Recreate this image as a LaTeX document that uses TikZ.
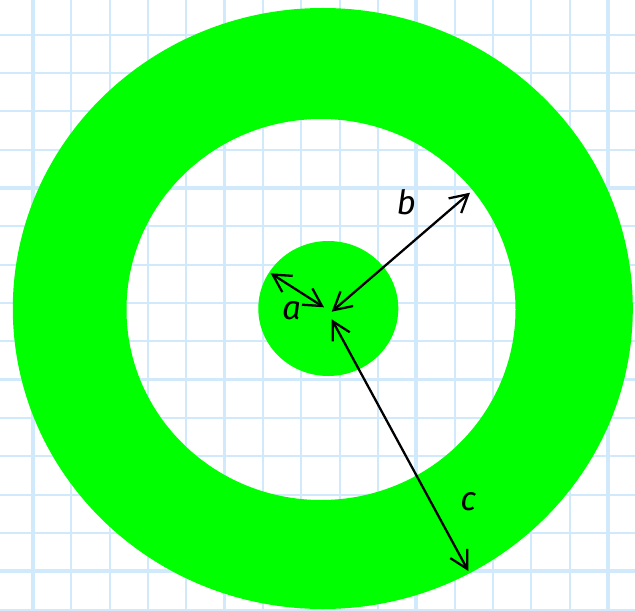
\documentclass[tikz,border=0pt]{standalone}
\usepackage{fontspec}
\setsansfont{Fira Sans}
\usetikzlibrary{arrows.meta}

\definecolor{gridblue}{RGB}{208,234,252}
\definecolor{ringgreen}{RGB}{0,255,0}

\begin{document}
\begin{tikzpicture}[x=0.02cm,y=-0.02cm,
  minor/.style={draw=gridblue,line width=1.1pt},
  major/.style={draw=gridblue,line width=2.1pt},
  dim/.style={<->,line width=1.3pt,>={Straight Barb[length=10pt,width=11pt]}},
  lbl/.style={font=\sffamily\itshape\fontsize{19}{22}\selectfont,inner sep=0pt}
]
  \useasboundingbox (0,0) rectangle (635,611);

  % squared paper
  \foreach \k in {0,...,15}
    \draw[minor] ({33+38.33*\k},0) -- ({33+38.33*\k},611);
  \foreach \m in {-5,...,11}
    \draw[minor] (0,{188+38.33*\m}) -- (635,{188+38.33*\m});
  \foreach \k in {0,5,10,15}
    \draw[major] ({33+38.33*\k},0) -- ({33+38.33*\k},611);
  \foreach \m in {0,5,10}
    \draw[major] (0,{188+38.33*\m}) -- (635,{188+38.33*\m});

  % ring and core
  \fill[ringgreen,even odd rule]
    (322.8,308.5) ellipse [x radius=310,y radius=300.5]
    (321,309.5) ellipse [x radius=194.5,y radius=190.5];
  \fill[ringgreen] (328.3,308.5) ellipse [x radius=70,y radius=67.5];

  \coordinate (a1) at (270.7,273.3);
  \coordinate (a2) at (324,307.3);
  \coordinate (b1) at (331.7,311.7);
  \coordinate (b2) at (470,192.7);
  \coordinate (c1) at (331.7,319.3);
  \coordinate (c2) at (468.3,571);

  % radii
  \draw[dim] (a1) -- (a2);
  \draw[dim] (b1) -- (b2);
  \draw[dim] (c1) -- (c2);

  \node[lbl] (la) at (291.7,311) {a};
  \node[lbl] (lb) at (406.3,202.5) {b};
  \node[lbl] (lc) at (468.3,502) {c};
\end{tikzpicture}
\end{document}
